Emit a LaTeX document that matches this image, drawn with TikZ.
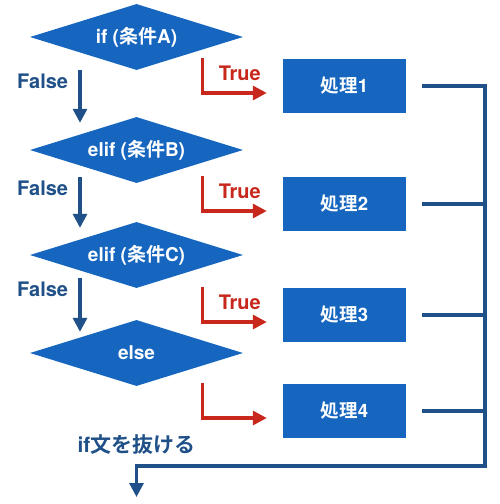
\documentclass[tikz,border=0pt]{standalone}
\usepackage{fontspec}
\setmainfont{TeX Gyre Heros}
\newfontfamily\jpfont{Noto Sans CJK JP Bold}[BoldFont={Noto Sans CJK JP Bold}]
\newcommand{\jp}[1]{{\jpfont #1}}
\usetikzlibrary{shapes.geometric,arrows.meta}
\definecolor{boxblue}{HTML}{1666BF}
\definecolor{lineblue}{HTML}{1F5088}
\definecolor{truered}{HTML}{C8281C}
\begin{document}
\begin{tikzpicture}
[x=1pt,y=-1pt,
 conddecorate/.style={shape=diamond,aspect=3.2,fill=boxblue,inner sep=0pt,minimum width=213pt,minimum height=66pt,text=white,font=\fontsize{19}{20}\selectfont\bfseries},
 procdecorate/.style={shape=rectangle,fill=boxblue,inner sep=0pt,minimum width=123pt,minimum height=54pt,text=white,font=\fontsize{18.5}{20}\selectfont\bfseries},
 labeldecorate/.style={font=\fontsize{20}{24}\selectfont\bfseries},
 falsedecorate/.style={-{Triangle[length=14pt,width=14pt]},line width=3.2pt,draw=lineblue},
 truedecorate/.style={-{Triangle[length=14pt,width=14pt]},line width=3.2pt,draw=truered},
 mergedecorate/.style={-,line width=3.2pt,draw=lineblue}]
\useasboundingbox (0,0) rectangle (500,504);
%% condition diamonds
\foreach \nodename/\y/\nodetext in {condA/37/{if (\jp{条件}A)}, condB/150/{elif (\jp{条件}B)}, condC/255/{elif (\jp{条件}C)}, condElse/353/{else}} {
  \node (\nodename) at (136.5,\y) [conddecorate] {\nodetext};
}
%% process boxes
\foreach \nodename/\y/\nodetext in {procA/86/{\jp{処理}1}, procB/204/{\jp{処理}2}, procC/315/{\jp{処理}3}, procD/411/{\jp{処理}4}} {
  \node (\nodename) at (344.5,\y) [procdecorate] {\nodetext};
}
\node (exitlabel) at (136.5,445) [labeldecorate,text=lineblue,font=\fontsize{21}{24}\selectfont\bfseries] {if\jp{文を抜ける}};
\coordinate (railbottom) at (485,466);
\coordinate (exit) at (136.5,497);
%% false branches
\foreach \startnode/\endnode/\ys/\ye in {condA/condB/0/-6, condB/condC/6/-6, condC/condElse/10/-12} {
  \draw[falsedecorate] ([xshift=-56.5pt,yshift=\ys pt]\startnode.south) --
    node[pos=0.21,left=7pt,labeldecorate,text=lineblue] {False}
    ([xshift=-56.5pt,yshift=\ye pt]\endnode.north);
}
%% true branches
\foreach \endnode in {procA, procB, procC, procD} {
  \draw[truedecorate] ([xshift=-80pt,yshift=1pt]\endnode.north west) |- ([xshift=-16pt,yshift=-7pt]\endnode.west);
}
\foreach \endnode in {procA, procB, procC} {
  \node at ([xshift=-43pt,yshift=13pt]\endnode.west) [labeldecorate,text=truered] {True};
}
%% merge lines
\draw[mergedecorate,-{Triangle[length=14pt,width=14pt]}] ([xshift=16pt]procA.east) -| (railbottom) -| (exit);
\foreach \startnode in {procB, procC, procD} {
  \draw[mergedecorate] ([xshift=16pt]\startnode.east) -- (\startnode.east -| railbottom);
}
\end{tikzpicture}
\end{document}
